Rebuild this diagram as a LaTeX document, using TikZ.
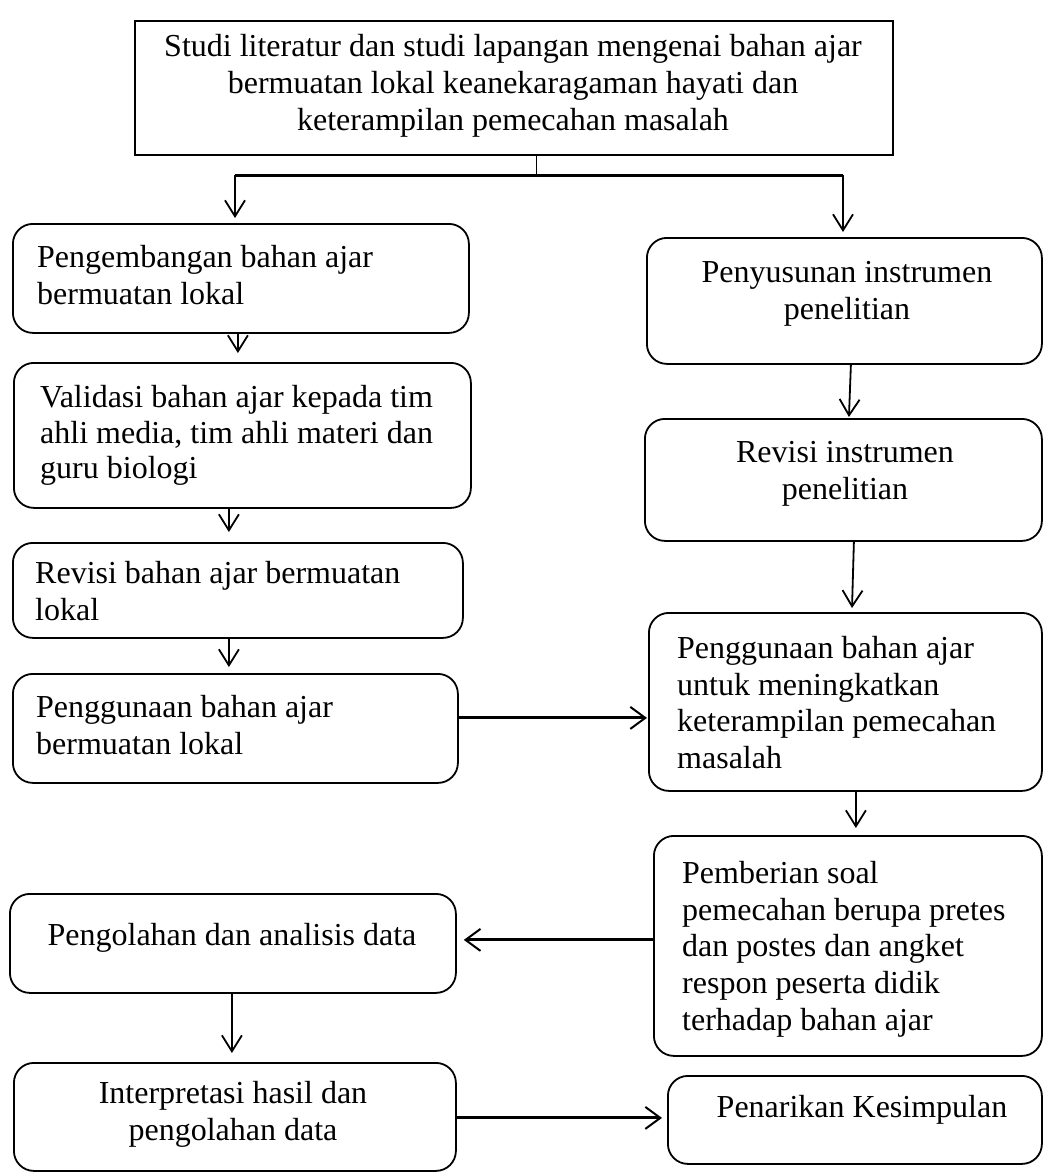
\documentclass[tikz,border=0pt]{standalone}
\usepackage{fontspec}
\setmainfont{Liberation Serif}
\usetikzlibrary{arrows.meta}
\newcommand\myst{\rule{0pt}{24pt}}
\begin{document}
\begin{tikzpicture}[x=1pt,y=-1pt,
  box/.style={draw, line width=1.8pt, rounded corners=20pt, inner sep=0pt, anchor=north west},
  topbox/.style={draw, line width=2.4pt, inner sep=0pt, anchor=north west},
  txt/.style={inner sep=0pt, font=\fontsize{32}{36.8}\selectfont, align=left, anchor=north west},
  ctxt/.style={inner sep=0pt, font=\fontsize{32}{36.8}\selectfont, align=center, anchor=north},
  arr/.style={line width=1.8pt, -{Straight Barb[length=16pt,width=20pt,line width=1.8pt]}},
  harr/.style={line width=3pt, -{Straight Barb[length=15pt,width=22pt,line width=2pt]}}
]
\fill[white] (0,0) rectangle (1043,1173);
\useasboundingbox (0,0) rectangle (1043,1173);

% top box
\node[topbox, minimum width=758pt, minimum height=134pt] (top) at (134,20) {};
\node[ctxt, font=\fontsize{32}{37}\selectfont] (topt) at (513,32) {\myst Studi literatur dan studi lapangan mengenai bahan ajar\\bermuatan lokal keanekaragaman hayati dan\\keterampilan pemecahan masalah};

% left column
\node[box, minimum width=456pt, minimum height=109pt] (l1) at (12,223) {};
\node[txt] (l1t) at (37,243) {\myst Pengembangan bahan ajar\\bermuatan lokal};

\node[box, minimum width=457pt, minimum height=145pt] (l2) at (13,362) {};
\node[txt, font=\fontsize{32}{35.8}\selectfont] (l2t) at (40,383) {\myst Validasi bahan ajar kepada tim\\ahli media, tim ahli materi dan\\guru biologi};

\node[box, minimum width=450pt, minimum height=95pt] (l3) at (12,542) {};
\node[txt] (l3t) at (35,559) {\myst Revisi bahan ajar bermuatan\\lokal};

\node[box, minimum width=445pt, minimum height=109pt] (l4) at (12,673) {};
\node[txt] (l4t) at (36,693) {\myst Penggunaan bahan ajar\\bermuatan lokal};

\node[box, minimum width=446pt, minimum height=99pt] (l5) at (9,893) {};
\node[ctxt] (l5t) at (232,921) {\myst Pengolahan dan analisis data};

\node[box, minimum width=442pt, minimum height=108pt] (l6) at (13,1062) {};
\node[ctxt] (l6t) at (233,1079) {\myst Interpretasi hasil dan\\pengolahan data};

% right column
\node[box, minimum width=395pt, minimum height=126pt] (r1) at (646,237) {};
\node[ctxt] (r1t) at (847,258) {\myst Penyusunan instrumen\\penelitian};

\node[box, minimum width=397pt, minimum height=122pt] (r2) at (644,418) {};
\node[ctxt] (r2t) at (845,438) {\myst Revisi instrumen\\penelitian};

\node[box, minimum width=393pt, minimum height=178pt] (r3) at (648,612) {};
\node[txt] (r3t) at (677,634) {\myst Penggunaan bahan ajar\\untuk meningkatkan\\keterampilan pemecahan\\masalah};

\node[box, minimum width=388pt, minimum height=220pt] (r4) at (653,835) {};
\node[txt] (r4t) at (682,859) {\myst Pemberian soal\\pemecahan berupa pretes\\dan postes dan angket\\respon peserta didik\\terhadap bahan ajar};

\node[box, minimum width=374pt, minimum height=88pt] (r5) at (667,1075) {};
\node[ctxt] (r5t) at (862,1093) {\myst Penarikan Kesimpulan};

% connectors from top
\coordinate (j) at ([xshift=22pt,yshift=-19pt]top.south);
\coordinate (xl) at (235,0);
\coordinate (xr) at (843,0);
\draw[line width=1pt] (j |- top.south) -- (j);
\draw[line width=3pt] (j -| xl) -- (j -| xr);
\draw[arr, shorten >=5pt] (j -| xl) -- (l1.north -| xl);
\draw[arr, shorten >=5pt] (j -| xr) -- (r1.north -| xr);

% left column arrows
\draw[arr, shorten >=9pt] ([xshift=-3pt]l1.south) -- ([xshift=-4.5pt]l2.north);
\draw[arr, shorten >=10pt] ([xshift=-13.5pt]l2.south) -- ([xshift=-9pt]l3.north);
\draw[arr, shorten >=6pt] ([xshift=-9pt]l3.south) -- ([xshift=-6.5pt]l4.north);
\draw[arr, shorten >=9pt] ([xshift=-1pt]l5.south) -- ([xshift=-3pt]l6.north);

% right column arrows
\draw[arr, shorten >=1pt] ([xshift=6.5pt]r1.south) -- ([xshift=5.5pt]r2.north);
\draw[arr, shorten >=4pt] ([xshift=10.5pt]r2.south) -- ([xshift=6.5pt]r3.north);
\draw[arr, shorten >=7pt] ([xshift=10.5pt]r3.south) -- ([xshift=8pt]r4.north);

% horizontal arrows
\draw[harr, shorten >=1pt] ([yshift=10.5pt]l4.east) -- ([yshift=10.5pt]l4.east -| r3.west);
\draw[harr, shorten >=7pt] ([yshift=6pt]r4.west) -- ([yshift=6pt]r4.west -| l5.east);
\draw[harr, shorten >=5pt] ([yshift=-1pt]l6.east) -- ([yshift=-1pt]l6.east -| r5.west);
\end{tikzpicture}
\end{document}
